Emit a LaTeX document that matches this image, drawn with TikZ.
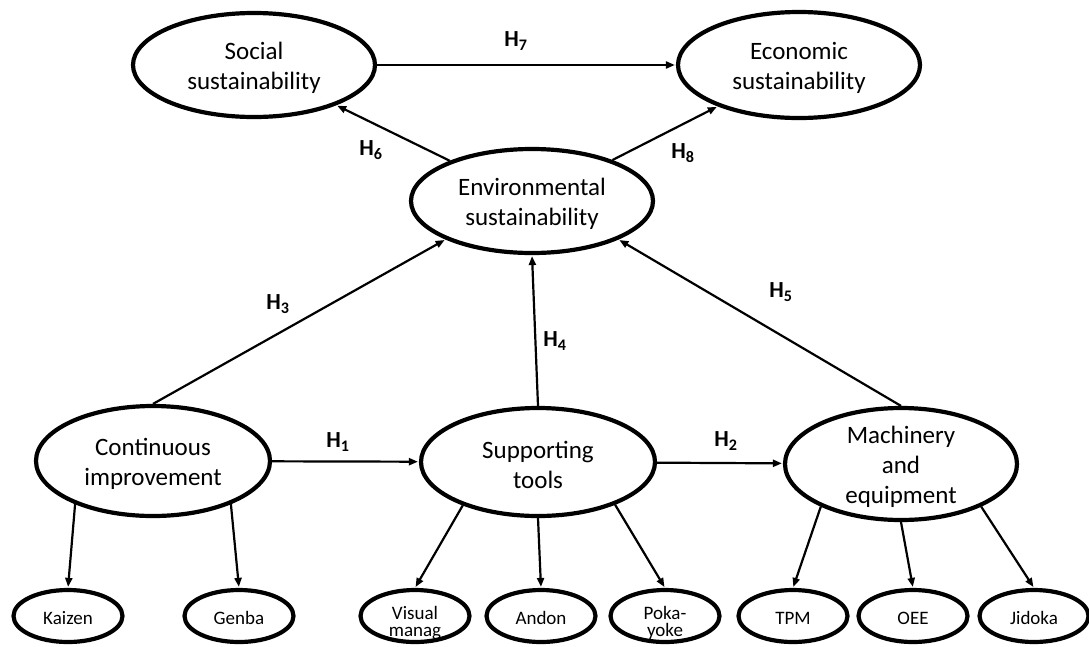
\documentclass[tikz,border=0pt]{standalone}
\usepackage{fontspec}
\setmainfont{Carlito}
\usetikzlibrary{arrows.meta,shapes.geometric}
\begin{document}
\begin{tikzpicture}[x=1pt,y=-1pt,
  bigE/.style={ellipse, draw, line width=4.2pt, fill=white, inner sep=0pt},
  smallE/.style={ellipse, draw, line width=4.2pt, fill=white, inner sep=0pt, minimum width=109pt, minimum height=52pt},
  bigT/.style={font=\fontsize{25}{30}\selectfont, align=center, inner sep=0pt, yshift=-3pt},
  smallT/.style={font=\fontsize{19}{17.5}\selectfont, align=center, inner sep=0pt, yshift=-2pt},
  arr/.style={line width=2.2pt, -{Triangle[length=9pt,width=7pt]}, shorten >=1pt},
  hyp/.style={font=\fontsize{23}{26}\selectfont\bfseries, inner sep=0pt}]
\useasboundingbox (0,0) rectangle (1089,646);
% main constructs
\node[bigE, minimum width=242pt, minimum height=104pt, label={[bigT]center:{Social\\sustainability}}] (soc) at (254,65) {};
\node[bigE, minimum width=242pt, minimum height=106pt, label={[bigT]center:{Economic\\sustainability}}] (eco) at (799,65) {};
\node[bigE, minimum width=242pt, minimum height=104pt, label={[bigT]center:{Environmental\\sustainability}}] (env) at (532,201) {};
\node[bigE, minimum width=234pt, minimum height=110pt, label={[bigT]center:{Continuous\\improvement}}] (ci) at (153,461) {};
\node[bigE, minimum width=234pt, minimum height=108pt, label={[bigT]center:{Supporting\\tools}}] (st) at (538,462) {};
\node[bigE, minimum width=232pt, minimum height=112pt, label={[bigT]center:{Machinery\\and\\equipment}}] (ma) at (901,464) {};
% practices
\node[smallE, label={[smallT]center:Kaizen}] (kai) at (68,616) {};
\node[smallE, label={[smallT]center:Genba}] (gen) at (239,616) {};
\node[smallE, label={[smallT,yshift=-5pt]center:{Visual\\manag}}] (vis) at (415,616) {};
\node[smallE, label={[smallT]center:Andon}] (and) at (541,616) {};
\node[smallE, label={[smallT,yshift=-5pt]center:{Poka-\\yoke}}] (pok) at (665,616) {};
\node[smallE, label={[smallT]center:TPM}] (tpm) at (793,616) {};
\node[smallE, label={[smallT]center:OEE}] (oee) at (913,616) {};
\node[smallE, label={[smallT]center:Jidoka}] (jid) at (1034,616) {};
% hypotheses
\draw[arr] (ci) -- (st);
\draw[arr] (st) -- (ma);
\draw[arr] (ci.north) -- (env.204);
\draw[arr] (st.north) -- (env.south);
\draw[arr] (ma.north) -- (env.336);
\draw[arr] (env) -- (soc);
\draw[arr] (env) -- (eco);
\draw[arr] (soc) -- (eco);
% practice links
\draw[arr] (ci.209) -- (kai.north);
\draw[arr] (ci.331) -- (gen.north);
\draw[arr] (st.210) -- (vis.north);
\draw[arr] (st.south) -- (and.north);
\draw[arr] (st.331) -- (pok.north);
\draw[arr] (ma.208) -- (tpm.north);
\draw[arr] (ma.south) -- (oee.north);
\draw[arr] (ma.332) -- (jid.north);
% labels
\node[hyp] (h1) at (338,442) {H\textsubscript{1}};
\node[hyp] (h2) at (726,441) {H\textsubscript{2}};
\node[hyp] (h3) at (278,304) {H\textsubscript{3}};
\node[hyp] (h4) at (555,341) {H\textsubscript{4}};
\node[hyp] (h5) at (781,292) {H\textsubscript{5}};
\node[hyp] (h6) at (371,150) {H\textsubscript{6}};
\node[hyp] (h7) at (516,41) {H\textsubscript{7}};
\node[hyp] (h8) at (683,153) {H\textsubscript{8}};
\end{tikzpicture}
\end{document}
